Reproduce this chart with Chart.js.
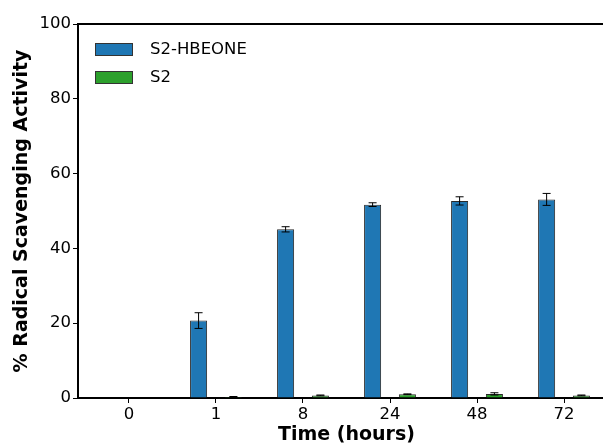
<!DOCTYPE html>
<html>
<head>
<meta charset="utf-8">
<script src="https://cdn.jsdelivr.net/npm/chart.js@4/dist/chart.umd.min.js"></script>
<style>
  html, body { margin: 0; padding: 0; background: #fff; overflow: hidden; }
  #wrap { width: 630px; height: 443px; }
</style>
</head>
<body>
<div id="wrap"><canvas id="myChart" width="630" height="443"></canvas></div>
<script>
// data
var timeLabels = ["0", "1", "8", "24", "48", "72"];
var hbeoneValues = [0, 20.7, 45.1, 51.7, 52.7, 53.1];
var hbeoneErrors = [0, 2.1, 0.7, 0.5, 1.1, 1.6];
var s2Values = [0, 0.3, 0.7, 1.0, 1.1, 0.7];
var s2Errors = [0, 0.1, 0.1, 0.1, 0.3, 0.1];
var yTicks = [0, 20, 40, 60, 80, 100];

function puntos(valores) {
  var res = [];
  for (var i = 0; i < valores.length; i++) {
    res.push({x: i, y: valores[i]});
  }
  return res;
}

var errores = [hbeoneErrors, s2Errors];

var barrasError = {
  id: 'barrasError',
  afterDatasetsDraw: function(chart) {
    var ctx = chart.ctx;
    var y = chart.scales.y;
    ctx.save();
    ctx.strokeStyle = '#000';
    ctx.lineWidth = 1;
    chart.data.datasets.forEach(function(ds, d) {
      var meta = chart.getDatasetMeta(d);
      meta.data.forEach(function(bar, i) {
        var v = ds.data[i].y;
        var e = errores[d][i];
        if (v === 0) return;
        var top = y.getPixelForValue(v + e);
        var bot = y.getPixelForValue(v - e);
        ctx.beginPath();
        ctx.moveTo(bar.x, top); ctx.lineTo(bar.x, bot);
        ctx.moveTo(bar.x - 4, top); ctx.lineTo(bar.x + 4, top);
        ctx.moveTo(bar.x - 4, bot); ctx.lineTo(bar.x + 4, bot);
        ctx.stroke();
      });
    });
    ctx.restore();
  }
};

var marco = {
  id: 'marco',
  afterDraw: function(chart) {
    var ctx = chart.ctx;
    var a = chart.chartArea;
    ctx.save();
    // top spine (right one falls outside the window)
    ctx.strokeStyle = '#000';
    ctx.lineWidth = 2;
    ctx.beginPath();
    ctx.moveTo(a.left, a.top); ctx.lineTo(a.right, a.top);
    ctx.stroke();
    // legend
    ctx.font = '16.5px "DejaVu Sans"';
    ctx.textBaseline = 'middle';
    chart.data.datasets.forEach(function(ds, d) {
      var ly = a.top + 19 + d * 28;
      ctx.fillStyle = ds.backgroundColor;
      ctx.fillRect(a.left + 17, ly, 38, 13);
      ctx.strokeStyle = '#333';
      ctx.lineWidth = 1;
      ctx.strokeRect(a.left + 17.5, ly + 0.5, 37, 12);
      ctx.fillStyle = '#000';
      ctx.fillText(ds.label, a.left + 72, ly + 7);
    });
    ctx.restore();
  }
};

var ejes = {
  type: 'linear',
  offset: false,
  min: -0.586,
  max: 5.586,
  afterBuildTicks: function(scale) {
    scale.ticks = timeLabels.map(function(t, i) { return {value: i}; });
  },
  afterFit: function(scale) { scale.height = 45; },
  ticks: {
    color: '#000',
    font: {family: 'DejaVu Sans', size: 16.5},
    padding: 2,
    callback: function(v) { return timeLabels[v]; }
  },
  grid: {display: true, offset: false, drawOnChartArea: false, drawTicks: true, tickLength: 5, color: '#000'},
  border: {display: true, color: '#000', width: 2},
  title: {
    display: true,
    text: 'Time (hours)',
    color: '#000',
    font: {family: 'DejaVu Sans', size: 19, weight: 'bold'},
    padding: {top: 0, bottom: -3}
  }
};

var ctx = document.getElementById('myChart').getContext('2d');
var grafico = new Chart(ctx, {
  type: 'bar',
  data: {
    datasets: [
      {
        label: 'S2-HBEONE',
        data: puntos(hbeoneValues),
        backgroundColor: '#1f77b4',
        borderColor: '#2a2a2a',
        borderWidth: 1
      },
      {
        label: 'S2',
        data: puntos(s2Values),
        backgroundColor: '#2ca02c',
        borderColor: '#2a2a2a',
        borderWidth: 1
      }
    ]
  },
  options: {
    responsive: false,
    animation: false,
    categoryPercentage: 0.8,
    barPercentage: 0.49,
    layout: {padding: {top: 24, right: 15, left: 0, bottom: 0}},
    plugins: {
      legend: {display: false},
      tooltip: {enabled: false}
    },
    scales: {
      x: ejes,
      y: {
        min: 0,
        max: 100,
        afterBuildTicks: function(scale) {
          scale.ticks = yTicks.map(function(v) { return {value: v}; });
        },
        afterFit: function(scale) { scale.width = 78; },
        ticks: {
          color: '#000',
          font: {family: 'DejaVu Sans', size: 16.5},
          padding: 2
        },
        grid: {display: true, drawOnChartArea: false, drawTicks: true, tickLength: 5, color: '#000'},
        border: {display: true, color: '#000', width: 2},
        title: {
          display: true,
          text: '% Radical Scavenging Activity',
          color: '#000',
          font: {family: 'DejaVu Sans', size: 19, weight: 'bold'},
          padding: {top: 11, bottom: 0}
        }
      }
    }
  },
  plugins: [barrasError, marco]
});
</script>
</body>
</html>
